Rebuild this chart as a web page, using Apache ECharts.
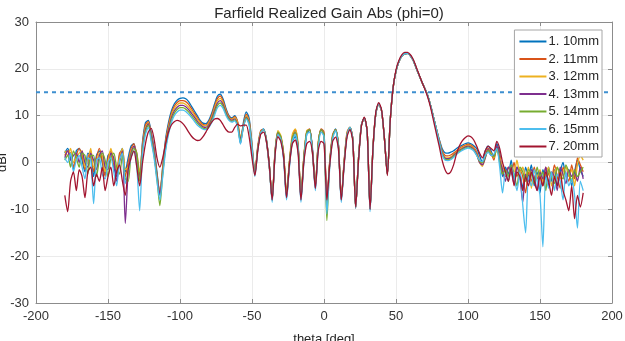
<!DOCTYPE html>
<html>
<head>
<meta charset="utf-8">
<script src="https://cdn.jsdelivr.net/npm/echarts@6/dist/echarts.min.js"></script>
<style>
  html, body { margin: 0; padding: 0; background: #fff; }
  #chart { width: 625px; height: 341px; }
</style>
</head>
<body>
<div id="chart"></div>
<script>
// theta grid, 2 deg steps from -180 to 180
const theta = []
for (let t = -180; t <= 180; t += 2) theta.push(t)

const names = ['1. 10mm', '2. 11mm', '3. 12mm', '4. 13mm', '5. 14mm', '6. 15mm', '7. 20mm']
const colors = ['#0072BD', '#D95319', '#EDB120', '#7E2F8E', '#77AC30', '#4DBEEE', '#A2142F']

// realized gain [dBi], rows of 20 deg
const gain10 = [
  2.0, 3.0, 1.0, -1.5, 2.5, 3.0, 0.5, -2.0, 2.0, 1.5,
  -3.0, 1.5, 2.5, 0.0, -2.5, 1.5, 2.0, -1.0, -3.0, 1.5,
  3.0, -2.0, 1.0, 3.5, 4.0, 0.5, -3.0, 4.5, 8.5, 9.0,
  6.5, 3.0, -2.0, -7.0, -1.0, 5.0, 8.5, 11.0, 12.5, 13.3,
  13.7, 13.8, 13.6, 13.0, 12.0, 11.0, 10.0, 9.0, 8.4, 8.3,
  9.0, 10.5, 12.5, 14.2, 14.6, 13.5, 11.5, 10.0, 9.5, 10.0,
  8.5, 4.0, 8.5, 10.8, 9.5, 4.0, -2.5, 3.0, 6.5, 7.2,
  5.0, -0.5, -8.0, 2.0, 6.5, 5.0, 1.0, -7.5, -0.5, 4.5,
  5.5, 3.0, -8.0, 0.5, 6.0, 7.0, 3.0, -5.5, 3.5, 7.0,
  6.0, -9.0, 0.0, 5.5, 7.2, 4.0, -8.0, 0.0, 6.0, 7.5,
  5.0, -9.5, 1.0, 8.0, 9.5, 6.5, -10.0, 3.0, 10.5, 12.5,
  11.0, 5.0, -2.5, 9.0, 16.0, 19.5, 21.5, 22.7, 23.2, 23.3,
  22.8, 21.8, 20.2, 18.7, 17.2, 15.8, 14.3, 12.2, 9.7, 7.2,
  5.0, 3.0, 2.1, 2.0, 2.2, 2.5, 3.0, 3.4, 3.7, 4.0,
  4.2, 4.0, 3.6, 3.0, 1.5, 0.0, 2.5, 3.5, 2.5, 1.0,
  4.0, 2.0, -3.0, -1.0, -2.5, 0.5, -3.5, -1.0, -2.0, -5.5,
  -1.0, -3.0, -0.5, -5.0, -2.0, -6.5, -1.5, -3.5, -1.0, -4.0,
  -1.5, -5.0, -2.0, 0.0, -3.0, -1.5, -5.0, -2.0, 0.5, -1.5,
  -3.0
]
const gain11 = [
  1.5, 2.5, 2.0, -1.0, 1.5, 3.0, 1.5, -1.5, 1.0, 2.5,
  -2.0, 1.0, 3.0, 0.5, -3.0, 1.0, 2.5, -0.5, -2.0, 2.0,
  2.5, -3.0, 0.0, 3.0, 4.0, 1.0, -2.5, 4.0, 8.0, 8.8,
  6.0, 2.5, -2.5, -6.5, -1.0, 4.5, 8.0, 10.5, 12.0, 12.8,
  13.2, 13.2, 13.0, 12.4, 11.5, 10.5, 9.6, 8.7, 8.1, 8.0,
  8.7, 10.1, 12.0, 13.7, 14.2, 13.1, 11.2, 9.8, 9.3, 9.8,
  8.8, 5.0, 8.0, 10.3, 9.0, 3.5, -2.0, 3.5, 6.8, 7.0,
  4.5, -1.0, -7.5, 2.5, 6.5, 5.5, 1.5, -7.0, 0.0, 5.5,
  7.0, 3.5, -7.5, 1.0, 6.5, 7.2, 2.5, -5.0, 4.0, 7.2,
  6.5, -8.0, 0.5, 6.0, 7.0, 3.5, -7.5, 0.5, 6.5, 7.5,
  5.0, -9.8, 1.0, 8.0, 9.5, 6.5, -9.5, 3.0, 10.5, 12.5,
  11.0, 5.0, -2.5, 9.0, 16.0, 19.5, 21.5, 22.7, 23.2, 23.3,
  22.8, 21.8, 20.2, 18.7, 17.2, 15.8, 14.3, 12.2, 9.7, 7.2,
  4.8, 2.6, 1.5, 1.4, 1.6, 2.0, 2.5, 3.0, 3.4, 3.7,
  3.9, 3.7, 3.2, 2.3, 0.5, -0.5, 1.5, 3.0, 2.0, 0.5,
  3.5, 1.5, -2.0, -3.0, -1.0, -2.5, 0.0, -3.0, -1.5, -3.0,
  -6.5, -2.0, -4.0, -1.0, -3.5, -2.5, -5.0, -1.0, -2.5, -3.5,
  -0.5, -3.0, -5.5, -1.0, -2.5, -4.0, -0.5, -3.5, 1.0, -0.5,
  -2.0
]
const gain12 = [
  2.5, 1.5, 3.0, 0.0, 1.0, 2.0, 2.5, -1.0, 0.0, 3.0,
  -1.0, 0.0, 2.0, 1.5, -2.0, 0.0, 3.0, 0.5, -1.5, 1.0,
  3.0, -1.5, -1.0, 2.5, 3.5, 2.0, -2.0, 3.5, 7.5, 8.5,
  5.5, 2.0, -3.0, -6.0, -1.5, 4.0, 7.5, 10.0, 11.5, 12.3,
  12.7, 12.7, 12.4, 11.8, 11.0, 10.1, 9.2, 8.4, 7.9, 7.8,
  8.4, 9.7, 11.6, 13.2, 13.7, 12.7, 10.9, 9.6, 9.2, 9.6,
  8.5, 5.5, 7.5, 10.0, 8.8, 3.5, -2.5, 3.0, 6.5, 7.0,
  4.8, -0.5, -8.0, 2.0, 6.8, 5.8, 2.0, -6.5, 0.5, 6.0,
  7.2, 4.0, -7.0, 1.5, 6.8, 7.0, 2.0, -5.0, 4.5, 7.0,
  6.0, -8.5, 0.0, 5.8, 7.0, 3.8, -7.8, 0.0, 6.2, 7.5,
  5.0, -9.5, 1.0, 8.0, 9.5, 6.5, -9.8, 3.0, 10.5, 12.5,
  11.0, 5.0, -2.5, 9.0, 16.0, 19.5, 21.5, 22.7, 23.2, 23.3,
  22.8, 21.8, 20.2, 18.7, 17.2, 15.8, 14.3, 12.2, 9.7, 7.2,
  4.7, 2.3, 1.1, 1.0, 1.2, 1.7, 2.3, 2.8, 3.2, 3.5,
  3.7, 3.5, 3.0, 2.0, 0.0, -0.8, 1.0, 2.5, 2.0, 1.0,
  3.0, 1.0, -1.0, -2.0, -4.0, -1.5, -2.0, 0.5, -2.5, -1.0,
  -3.0, -1.0, -5.5, -2.0, -3.0, -1.5, -4.0, -2.5, -1.0, -5.0,
  -2.0, -1.0, -3.5, -2.0, -1.0, -3.0, -1.5, -5.0, -0.5, 1.5,
  0.5
]
const gain13 = [
  1.0, 2.5, 0.5, 1.5, 2.0, 0.0, 2.5, 0.0, -1.0, 2.0,
  0.5, -1.5, 1.5, 2.5, -1.0, -1.5, 2.0, 1.0, -4.0, 0.0,
  2.5, -13.0, -2.0, 2.0, 3.5, 1.5, -3.5, 3.0, 7.0, 8.3,
  5.5, 2.0, -3.0, -6.5, -2.0, 3.5, 7.0, 9.5, 11.0, 11.8,
  12.2, 12.2, 11.9, 11.3, 10.5, 9.7, 8.8, 8.1, 7.6, 7.5,
  8.1, 9.3, 11.1, 12.7, 13.2, 12.3, 10.6, 9.4, 9.0, 9.3,
  8.0, 5.0, 7.5, 9.7, 8.5, 3.0, -2.5, 3.0, 6.3, 7.0,
  4.8, -0.5, -8.0, 2.0, 6.3, 5.3, 1.5, -7.0, 0.0, 5.0,
  6.5, 3.5, -7.5, 1.0, 6.5, 7.0, 2.5, -5.0, 4.0, 7.0,
  6.0, -8.5, 0.0, 5.5, 7.0, 3.8, -7.8, 0.0, 6.0, 7.5,
  5.0, -9.5, 1.0, 8.0, 9.5, 6.5, -10.0, 3.0, 10.5, 12.5,
  11.0, 5.0, -2.5, 9.0, 16.0, 19.5, 21.5, 22.7, 23.2, 23.3,
  22.8, 21.8, 20.2, 18.7, 17.2, 15.8, 14.3, 12.2, 9.7, 7.2,
  4.6, 2.1, 0.9, 0.8, 1.0, 1.5, 2.1, 2.6, 3.0, 3.3,
  3.5, 3.3, 2.8, 1.8, 0.0, -0.5, 1.0, 2.8, 1.5, 1.5,
  3.5, 0.5, -1.5, -4.0, -1.0, -2.0, -4.5, -1.0, -3.0, -8.5,
  -2.5, -4.0, -1.5, -3.0, -6.0, -2.0, -3.5, -1.0, -5.0, -2.0,
  -3.0, -6.0, -1.0, -2.5, -4.5, -1.5, -3.0, -2.0, -4.0, -1.0,
  -3.5
]
const gain14 = [
  0.5, 1.5, -1.0, 2.5, 1.0, -1.0, 2.0, 1.5, -2.5, 1.5,
  1.5, -3.0, 0.5, 2.0, 0.5, -3.0, 1.0, 2.0, -1.0, -2.5,
  1.5, -3.5, -4.0, 1.5, 3.0, 2.0, -4.0, 2.5, 6.5, 8.0,
  5.0, 1.5, -3.5, -9.2, -2.5, 3.0, 6.5, 9.0, 10.5, 11.3,
  11.7, 11.7, 11.4, 10.8, 10.0, 9.2, 8.4, 7.8, 7.3, 7.2,
  7.8, 8.9, 10.6, 12.2, 12.7, 11.9, 10.3, 9.2, 8.8, 9.1,
  7.8, 4.5, 7.5, 9.5, 8.3, 3.0, -2.5, 3.0, 6.3, 7.0,
  4.8, -0.5, -8.0, 2.0, 6.5, 5.5, 1.5, -7.0, 0.0, 5.2,
  6.5, 3.5, -7.5, 1.0, 6.5, 7.0, 2.5, -5.0, 4.0, 7.0,
  6.0, -12.4, 0.0, 5.5, 7.0, 3.8, -7.8, 0.0, 6.0, 7.5,
  5.0, -9.5, 1.0, 8.0, 9.5, 6.5, -10.0, 3.0, 10.5, 12.5,
  11.0, 5.0, -2.5, 9.0, 16.0, 19.5, 21.5, 22.7, 23.2, 23.3,
  22.8, 21.8, 20.2, 18.7, 17.2, 15.8, 14.3, 12.2, 9.7, 7.2,
  4.5, 1.9, 0.7, 0.6, 0.8, 1.3, 1.9, 2.4, 2.8, 3.1,
  3.3, 3.1, 2.6, 1.6, 0.3, 0.0, 1.3, 2.6, 1.8, 1.2,
  3.0, 0.0, -2.5, -1.5, -3.0, -0.5, -2.5, -5.0, -1.0, -2.0,
  -4.0, -1.5, -2.5, -4.5, -1.0, -3.0, -2.0, -6.0, -1.5, -3.0,
  -4.5, -1.0, -2.5, -3.5, -0.5, -2.0, -4.0, -1.5, -3.0, -2.0,
  -1.0
]
const gain15 = [
  1.0, 0.0, 2.0, -2.0, 0.5, 1.5, -1.0, -3.5, 1.0, 0.5,
  -8.8, 0.5, 1.0, -2.5, -3.5, 0.0, 1.0, -2.0, -5.0, 0.5,
  2.0, -4.5, -2.0, 1.0, 2.5, -1.0, -10.3, 2.0, 6.0, 7.5,
  4.5, 1.0, -4.0, -8.0, -3.0, 2.5, 6.0, 8.5, 10.0, 10.8,
  11.2, 11.2, 10.9, 10.3, 9.6, 8.8, 8.0, 7.5, 7.1, 7.0,
  7.5, 8.5, 10.1, 11.7, 12.2, 11.5, 10.0, 9.0, 8.6, 8.9,
  7.5, 4.0, 7.5, 9.3, 8.0, 3.0, -3.0, 2.5, 6.3, 7.0,
  4.5, -1.0, -8.5, 1.5, 6.0, 5.0, 0.5, -8.0, -1.0, 4.5,
  6.0, 3.0, -8.5, 0.0, 6.0, 6.5, 2.0, -6.0, 3.0, 6.5,
  5.5, -11.0, -1.0, 5.0, 6.8, 3.0, -8.5, -0.5, 5.8, 7.5,
  4.8, -9.8, 0.5, 8.0, 9.5, 6.2, -10.5, 2.5, 10.5, 12.5,
  11.0, 5.0, -2.5, 9.0, 16.0, 19.5, 21.5, 22.7, 23.2, 23.3,
  22.8, 21.8, 20.2, 18.7, 17.2, 15.8, 14.3, 12.2, 9.7, 7.2,
  4.4, 1.7, 0.5, 0.4, 0.6, 1.1, 1.7, 2.2, 2.6, 2.9,
  3.1, 2.9, 2.5, 1.5, 0.5, 0.2, 1.5, 2.2, 1.5, 1.8,
  3.0, -1.0, -6.5, -2.0, -4.0, -1.0, -3.0, -6.0, -2.0, -9.0,
  -15.0, -3.0, -5.0, -1.5, -4.0, -7.0, -18.0, -3.0, -5.5, -2.0,
  -6.0, -2.5, -4.0, -8.0, -2.0, -5.0, -3.5, -7.0, -14.0, -4.0,
  -6.0
]
const gain20 = [
  -7.0, -10.5, -4.0, -2.0, -6.0, -1.5, -3.0, -7.5, -2.0, -1.0,
  -5.0, -2.5, -4.0, -1.0, -6.0, -3.0, -1.0, -5.0, -2.0, -0.5,
  -4.0, -7.0, -1.5, 1.0, 2.5, -1.0, -5.0, 0.0, 4.0, 6.5,
  7.3, 5.0, 1.0, -1.0, 1.0, 4.0, 6.5, 8.0, 8.7, 9.0,
  8.8, 8.3, 7.5, 6.5, 5.6, 5.0, 4.7, 4.8, 5.5, 6.5,
  7.6, 8.6, 9.3, 9.4, 9.0, 8.0, 7.0, 6.5, 6.5, 7.5,
  8.2, 7.8, 8.0, 8.0, 5.5, 1.0, -2.8, 2.5, 6.0, 6.5,
  4.5, -0.5, -8.0, 1.5, 5.5, 4.5, 1.0, -7.5, -0.5, 4.0,
  4.8, 2.0, -8.0, 0.0, 4.0, 4.5, 2.0, -5.5, 2.5, 4.5,
  4.0, -8.0, -0.5, 4.5, 5.4, 3.0, -8.0, -0.5, 5.5, 7.0,
  4.5, -9.5, 0.5, 7.8, 9.7, 6.5, -10.0, 3.0, 10.8, 12.8,
  11.2, 5.0, -2.8, 9.0, 16.0, 19.8, 21.8, 23.0, 23.5, 23.5,
  23.0, 22.0, 20.4, 18.8, 17.2, 15.7, 14.0, 11.8, 9.0, 6.2,
  3.5, 0.5, -1.5, -2.4, -2.0, -0.5, 1.8, 3.5, 4.6, 5.3,
  5.7, 5.5, 4.8, 3.5, 2.0, 1.0, 2.5, 3.5, 3.0, 2.5,
  4.5, 3.0, 0.0, -2.0, -4.0, -1.0, -5.0, -2.0, -3.0, -6.0,
  -3.0, -5.0, -2.0, -4.0, -6.0, -3.0, -5.0, -2.0, -4.0, -7.0,
  -3.0, -5.0, -2.0, -6.0, -8.0, -10.3, -5.0, -12.0, -7.0, -9.5,
  -6.5
]
const gains = [gain10, gain11, gain12, gain13, gain14, gain15, gain20]

// dotted reference level
const limitTheta = [-200, 200]
const limitGain = [15, 15]

const font = 'Liberation Sans, Arial, sans-serif'
const axisGrey = '#8c8c8c'
const chart = echarts.init(document.getElementById('chart'), null, { renderer: 'canvas' })

const series = gains.map((g, k) => ({
  name: names[k],
  type: 'line',
  data: theta.map((t, i) => [t, g[i]]),
  showSymbol: false,
  smooth: 0.25,
  lineStyle: { width: 1.3, color: colors[k] },
  itemStyle: { color: colors[k] }
}))

series.unshift({
  name: 'limit',
  type: 'line',
  data: limitTheta.map((t, i) => [t, limitGain[i]]),
  showSymbol: false,
  lineStyle: { width: 2, type: [4, 4], color: '#3d8fd0' },
  z: 1
})

// box axes: bottom/left carry labels, top/right only ticks
const tickStyle = { inside: true, length: 4, lineStyle: { color: axisGrey } }

const option = {
  animation: false,
  backgroundColor: '#fff',
  textStyle: { fontFamily: font },
  title: {
    text: 'Farfield Realized Gain Abs (phi=0)',
    left: 324,
    textAlign: 'center',
    top: 1,
    textStyle: { fontSize: 15, fontWeight: 'normal', color: '#262626', fontFamily: font }
  },
  legend: {
    data: names,
    orient: 'vertical',
    right: 23,
    top: 30,
    padding: [5, 3, 4, 5],
    itemGap: 4.5,
    itemWidth: 27,
    itemHeight: 2,
    icon: 'rect',
    backgroundColor: '#fff',
    borderColor: '#a6a6a6',
    borderWidth: 1,
    textStyle: { fontSize: 13, color: '#262626', fontFamily: font, padding: [0, 0, 0, -3] }
  },
  grid: { left: 36, right: 13, top: 22, bottom: 38, outerBoundsMode: 'none' },
  xAxis: [{
    type: 'value',
    min: -200, max: 200, interval: 50,
    name: 'theta [deg]',
    nameLocation: 'middle',
    nameGap: 30,
    nameMoveOverlap: false,
    nameTextStyle: { fontSize: 13, color: '#262626' },
    axisLine: { onZero: false, lineStyle: { color: axisGrey } },
    axisTick: tickStyle,
    axisLabel: { fontSize: 13, color: '#333', margin: 7 },
    splitLine: { lineStyle: { color: '#ebebeb' } }
  }, {
    type: 'value', position: 'top',
    min: -200, max: 200, interval: 50,
    axisLine: { onZero: false, lineStyle: { color: axisGrey } },
    axisTick: tickStyle,
    axisLabel: { show: false },
    splitLine: { show: false }
  }],
  yAxis: [{
    type: 'value',
    min: -30, max: 30, interval: 10,
    name: 'dBi',
    nameLocation: 'middle',
    nameGap: 27,
    nameMoveOverlap: false,
    nameTextStyle: { fontSize: 13, color: '#262626' },
    axisLine: { show: true, onZero: false, lineStyle: { color: axisGrey } },
    axisTick: Object.assign({ show: true }, tickStyle),
    axisLabel: { fontSize: 13, color: '#333', margin: 7 },
    splitLine: { lineStyle: { color: '#ebebeb' } }
  }, {
    type: 'value', position: 'right',
    min: -30, max: 30, interval: 10,
    axisLine: { show: true, onZero: false, lineStyle: { color: axisGrey } },
    axisTick: Object.assign({ show: true }, tickStyle),
    axisLabel: { show: false },
    splitLine: { show: false }
  }],
  series: series
}

chart.setOption(option)
</script>
</body>
</html>
